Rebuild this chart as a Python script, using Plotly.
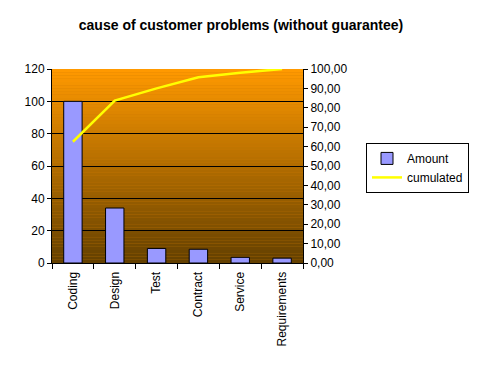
import plotly.graph_objects as go

categories = ["Coding", "Design", "Test", "Contract", "Service", "Requirements"]
amount = [100, 34, 9, 8.5, 3.5, 3]
cumulated = [62.5, 83.7, 90.0, 95.7, 98.1, 100.0]
left_ticks = [0, 20, 40, 60, 80, 100, 120]
right_ticks = [0, 10, 20, 30, 40, 50, 60, 70, 80, 90, 100]

FONT = "Arial, Liberation Sans, sans-serif"

fig = go.Figure()
fig.add_trace(go.Bar(
    x=categories, y=amount, name="Amount",
    marker=dict(color="#9999FF", line=dict(color="black", width=1)),
    yaxis="y",
))
fig.add_trace(go.Scatter(
    x=categories, y=cumulated, name="cumulated", mode="lines",
    line=dict(color="#FFFF00", width=2.5),
    yaxis="y2",
))

# gradient background
n = 60
top = (255, 153, 0)
bot = (100, 64, 0)
shapes = []
for i in range(n):
    t = i / (n - 1)
    c = tuple(round(bot[k] + (top[k] - bot[k]) * t) for k in range(3))
    shapes.append(dict(
        type="rect", xref="x domain", yref="y domain",
        x0=0, x1=1, y0=i / n, y1=(i + 1) / n,
        fillcolor="rgb(%d,%d,%d)" % c, line=dict(width=0), layer="below",
    ))

fig.update_layout(
    width=481, height=372,
    margin=dict(l=44, r=186, t=61, b=117),
    paper_bgcolor="white", plot_bgcolor="#CC7A00",
    font=dict(family=FONT, size=12, color="black"),
    separators=", ",
    title=dict(text="<b>cause of customer problems (without guarantee)</b>",
               x=233 / 481, xref="container", xanchor="center",
               y=1 - 17 / 372, yref="container", yanchor="middle",
               font=dict(size=14, family=FONT, color="black")),
    bargap=0.56,
    shapes=shapes,
    showlegend=True,
    legend=dict(x=1.251, y=0.619, xanchor="left", yanchor="top",
                bgcolor="white", bordercolor="black", borderwidth=1,
                font=dict(size=12, family=FONT), tracegroupgap=4),
    xaxis=dict(tickangle=-90, ticks="outside", tickson="boundaries",
               ticklen=5, tickcolor="black", showline=True, linecolor="black",
               linewidth=1, showgrid=False, mirror=False,
               ticklabelstandoff=3),
    yaxis=dict(range=[0, 120], tickvals=left_ticks, ticks="outside",
               ticklen=4, tickcolor="black", showline=True, linecolor="black",
               showgrid=True, gridcolor="black", gridwidth=1, zeroline=False),
    yaxis2=dict(range=[0, 100], tickvals=right_ticks, tickformat=".2f",
                overlaying="y", side="right", ticks="outside", ticklen=4,
                tickcolor="black", showline=True, linecolor="black",
                showgrid=False, zeroline=False),
)

fig.write_html("out.html")
